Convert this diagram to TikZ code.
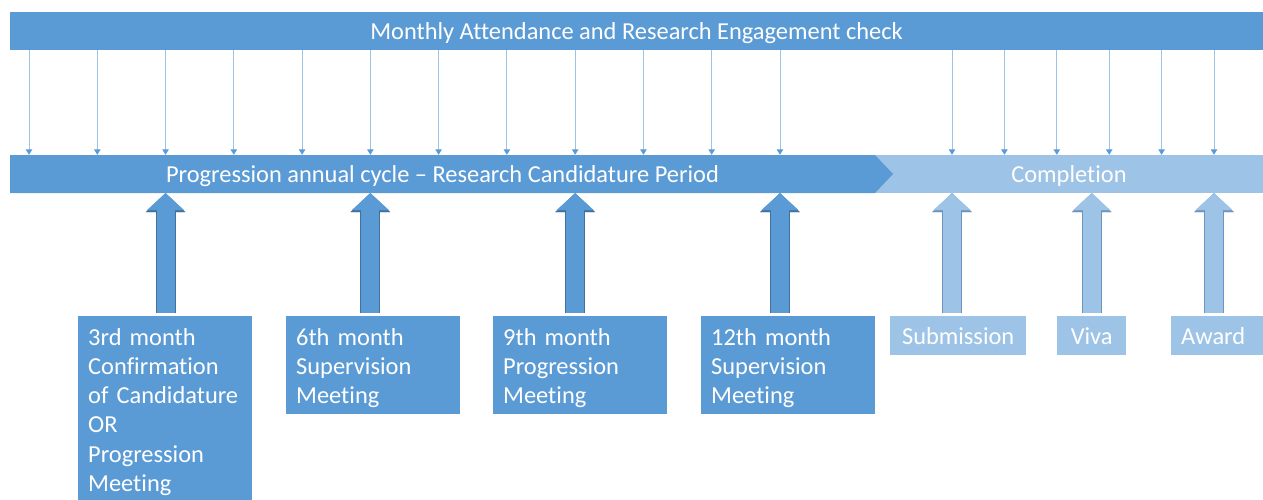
\documentclass[tikz,border=0pt]{standalone}
\usepackage{fontspec}
\setmainfont{Carlito}[Ligatures=CommonOff]
\usetikzlibrary{arrows.meta}
\definecolor{barblue}{HTML}{5B9BD5}
\definecolor{barlight}{HTML}{9DC3E6}
\definecolor{edgeblue}{HTML}{41719C}
\definecolor{edgelight}{HTML}{6E93BD}
\newcommand{\firstline}{\rule{0pt}{22.5pt}}

\begin{document}
\begin{tikzpicture}[
  x=1pt,
  y=-1pt,
  font=\fontsize{24.4}{29.2}\selectfont,
  bar/.style={
    fill=#1,
    text=white,
    minimum height=38pt,
    text depth=0pt,
    inner sep=0pt
  },
  checkline/.style={
    draw=barlight,
    line width=0.9pt,
    -{Triangle[width=6.5pt,length=5.5pt,color=barblue]}
  },
  stagebox/.style={
    fill=barblue,
    text=white,
    anchor=north west,
    align=left,
    text width=154pt,
    inner xsep=10pt,
    inner ysep=6.5pt,
    minimum height=98pt
  },
  donebox/.style={
    fill=barlight,
    text=white,
    anchor=north west,
    inner xsep=10pt,
    minimum height=39pt
  },
  lift/.style 2 args={
    line width=18pt,
    draw=#1,
    -{Triangle[width=37pt,length=17pt,line width=0.1pt]},
    preaction={
      draw=#2,
      line width=20pt,
      -{Triangle[width=40pt,length=19pt,line width=0.1pt]}
    }
  }
]
  \useasboundingbox (0,0) rectangle (1263,499);
  \clip (0,0) rectangle (1263,499);
  \node[bar=barblue,minimum width=1253pt] (attend) at (636.5,31)
    {Monthly Attendance and Research Engagement check};
  \node[bar=barlight,minimum width=388pt] (done) at (1069,174) {Completion};
  \fill[barblue] (10,155) -- (875,155) -- (893,174) -- (875,193) -- (10,193) -- cycle;
  \node[bar=none,minimum width=865pt] (cycle) at (442.5,174)
    {Progression annual cycle -- Research Candidature Period};
  \foreach \i in {1,...,12}
    \coordinate (m\i) at ({29+68.27*(\i-1)},0);
  \foreach \i in {1,...,6}
    \coordinate (c\i) at ({952+52.4*(\i-1)},0);
  \foreach \i in {1,...,12}
    \draw[checkline] (attend.south -| m\i) -- (cycle.north -| m\i);
  \foreach \i in {1,...,6}
    \draw[checkline] (attend.south -| c\i) -- (done.north -| c\i);
  \node[stagebox] (m3box) at (78,316)
    {\firstline 3rd month\\Confirmation\\of Candidature\\OR\\Progression\\Meeting};
  \node[stagebox] (m6box) at (286,316) {\firstline 6th month\\Supervision\\Meeting};
  \node[stagebox] (m9box) at (493,316) {\firstline 9th month\\Progression\\Meeting};
  \node[stagebox] (m12box) at (701,316) {\firstline 12th month\\Supervision\\Meeting};
  \node[donebox,minimum width=136pt] (submit) at (890,316) {Submission};
  \node[donebox,minimum width=69pt] (viva) at (1057,316) {Viva};
  \node[donebox,text width=72pt,align=left] (award) at (1171,316) {Award};
  \draw[lift={barblue}{edgeblue}] ([yshift=3pt]m3box.north -| m3) -- (cycle.south -| m3);
  \draw[lift={barblue}{edgeblue}] ([yshift=3pt]m6box.north -| m6) -- (cycle.south -| m6);
  \draw[lift={barblue}{edgeblue}] ([yshift=3pt]m9box.north -| m9) -- (cycle.south -| m9);
  \draw[lift={barblue}{edgeblue}] ([yshift=3pt]m12box.north -| m12) -- (cycle.south -| m12);
  \draw[lift={barlight}{edgelight}] ([yshift=3pt]submit.north -| c1) -- (done.south -| c1);
  \draw[lift={barlight}{edgelight}] ([yshift=3pt]viva.north) -- (done.south -| viva.north);
  \draw[lift={barlight}{edgelight}] ([yshift=3pt]award.north -| c6) -- (done.south -| c6);
\end{tikzpicture}
\end{document}
